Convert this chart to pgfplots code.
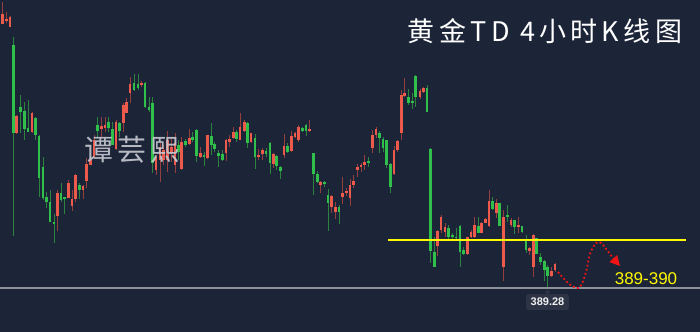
\documentclass[border=0pt]{standalone}
\usepackage{pgfplots}
\pgfplotsset{compat=1.18}
\usepackage{pgfplotstable}
\usepackage{fontspec}
\usetikzlibrary{arrows.meta}
\setmainfont{Liberation Sans}
\newfontfamily\cjktitle[LetterSpace=16]{Noto Sans CJK SC}
\newfontfamily\cjkwm[LetterSpace=15]{Noto Sans CJK SC}
\definecolor{bg}{RGB}{28,36,56}
\definecolor{cred}{RGB}{236,90,76}
\definecolor{cgreen}{RGB}{47,191,74}
\definecolor{wred}{RGB}{150,62,62}
\definecolor{wgreen}{RGB}{44,130,62}
\definecolor{ylw}{RGB}{255,250,0}
\definecolor{gline}{RGB}{140,144,153}
\definecolor{lblbox}{RGB}{44,52,70}
\definecolor{wmk}{RGB}{200,203,210}
\definecolor{arr}{RGB}{240,20,20}

% pixel-read candles: x, high, low, body top, body bottom (image y, top = 0)
\pgfplotstableread{
x hi lo bt bb
2.3 2 24 14 24
6.3 12 23 19 21
10 16 27 17 27
16.7 115 134 116 133
32 112 133 113 132
57.7 190 231 193 216
68.3 180 198 183 198
72 190 211 199 206
75.7 174 202 175 199
83 185 199 186 190
86.7 158 188 164 181
90.3 157 165 160 165
94 135 158 140 157
101.7 117 138 126 129
105 117 132 125 128
116 120 150 122 149
123.3 103 132 105 123
126.7 98 113 102 113
130 77 103 84 93
141.7 81 87 83 85
156 155 175 157 170
160 143 182 147 160
163.7 145 165 150 160
167.3 131 172 140 160
171.7 138 162 147 153
175 133 173 143 165
181.7 137 170 142 169
189.3 129 145 138 144
200.3 147 158 153 157
207.7 135 159 135 158
226 139 161 140 153
229.3 135 147 139 142
233.3 127 139 132 138
240 113 140 127 140
244.3 120 132 122 131
251 133 143 133 142
258.7 149 160 155 157
262.3 148 160 150 154
273.3 153 168 154 164
284 134 158 146 155
291.7 131 152 136 151
295 132 138 133 137
298.7 125 142 127 140
309.7 120 132 129 131
320.7 181 193 182 185
331.7 195 213 196 207
335.3 202 219 207 212
342.7 177 204 193 197
346.3 188 196 191 193
350 179 206 185 198
353.7 175 188 181 185
357.3 164 177 167 170
361 163 172 165 167
364.5 155 170 162 165
372.3 130 153 135 148
376 127 138 129 135
394 146 175 150 174
397.7 140 152 141 150
401.3 90 140 95 133
404.7 78 97 93 96
420 89 99 91 97
423.3 87 93 88 92
437.7 230 256 231 246
441 215 233 217 230
445 223 237 227 232
467.3 237 255 237 254
471 230 238 232 237
474.3 217 238 225 237
481.7 222 233 223 233
485.3 218 223 219 223
489 190 227 201 226
496.3 199 218 203 213
503.7 210 281 217 267
511 218 227 220 225
518.3 217 233 225 227
529.7 247 255 248 251
533.3 234 277 235 267
551.3 267 277 271 276
555 263 272 264 270
}\redtab

\pgfplotstableread{
x hi lo bt bb
13.3 37 236 45 133
20.7 95 133 107 112
24.3 102 140 111 129
28 100 132 128 132
35.7 117 140 118 135
39 135 197 136 178
43 157 200 167 198
46.7 192 208 197 202
50 190 222 202 222
54 214 243 222 224
61 183 202 193 200
64.7 197 214 197 199
79.7 183 199 185 190
97.7 117 138 125 131
108.3 117 132 122 128
112.3 122 145 129 145
119.7 122 137 123 131
134 74 91 83 90
138 74 90 84 88
145 82 108 83 107
149 97 112 107 110
152.7 97 173 103 163
178.3 140 160 145 152
185.7 139 147 141 145
192.7 132 142 137 140
196.7 129 162 130 156
204 152 166 155 157
211.3 123 155 136 145
214.7 142 152 144 149
218.3 150 167 153 156
222.3 150 161 154 160
236.7 130 142 132 139
247.7 122 148 123 143
255 134 169 138 157
266 148 157 151 154
270 142 174 143 163
276.7 155 170 156 166
280.7 166 179 167 171
287.3 143 153 146 152
302.7 127 132 128 131
306 124 136 125 131
313.7 153 195 153 174
317.3 171 183 174 182
324.3 181 187 182 184
328 189 231 195 203
339 205 224 207 212
368.3 157 167 161 163
379.3 131 153 133 138
383 137 152 139 148
386.7 140 168 140 165
390.3 163 193 164 187
408.7 89 105 97 103
412.3 93 109 101 103
415.7 75 107 76 97
427 85 112 88 112
430.3 148 263 149 251
434.3 237 267 252 267
448.7 225 239 228 237
452.3 233 240 235 237
456 228 239 237 238
460 225 267 226 252
463.3 247 255 250 254
478.3 217 233 226 233
492.7 197 210 201 209
499.7 203 226 203 226
507.3 205 222 215 217
514.7 220 234 220 227
522 226 233 226 232
526 235 253 239 250
536.7 238 254 238 254
540.7 253 265 257 262
544.3 260 281 261 270
547.7 265 287 267 276
}\greentab

\begin{document}
\begin{tikzpicture}
\fill[bg] (0,0) rectangle (700bp,332bp);
\begin{axis}[at={(0,0)}, anchor=south west,
  width=700bp, height=332bp, scale only axis,
  xmin=0, xmax=700, ymin=0, ymax=332, hide axis]

% gray price line (389.28)
\addplot[gline, line width=1.2bp] coordinates {(0,44) (700,44)};

% wicks (segments from low up to high)
\addplot[wred, line width=1bp, forget plot, quiver={u=0, v=\thisrow{lo}-\thisrow{hi}}]
  table[x=x, y expr={332-\thisrow{lo}}] {\redtab};
\addplot[wgreen, line width=1bp, forget plot, quiver={u=0, v=\thisrow{lo}-\thisrow{hi}}]
  table[x=x, y expr={332-\thisrow{lo}}] {\greentab};
% bodies
\addplot[cred, line width=2.6bp, forget plot, quiver={u=0, v=\thisrow{bb}-\thisrow{bt}}]
  table[x=x, y expr={332-\thisrow{bb}}] {\redtab};
\addplot[cgreen, line width=2.6bp, forget plot, quiver={u=0, v=\thisrow{bb}-\thisrow{bt}}]
  table[x=x, y expr={332-\thisrow{bb}}] {\greentab};

% yellow support line
\addplot[ylw, line width=1.3bp] coordinates {(388,92) (686,92)};

% red dotted projected path
\addplot[arr, line width=1.8bp, dash pattern=on 1.8bp off 2.4bp, smooth, tension=0.6,
  -{Triangle[length=10bp,width=10bp]}] coordinates {
  (558,60) (565,52) (572,46) (580,45) (586,60) (590,78) (596,89) (601,89) (607,82) (613,74) (620,66)};

% texts
\node[text=ylw, font=\fontsize{17bp}{19bp}\selectfont] at (axis cs:646,53) {389-390};
\fill[lblbox] (axis cs:544.5,38.5) -- (axis cs:547.5,42.5) -- (axis cs:550.5,38.5) -- cycle;
\node[fill=lblbox, text=white!88!gray, rounded corners=2bp, inner xsep=4.5bp, inner ysep=4bp,
  font=\bfseries\fontsize{11bp}{12bp}\selectfont] at (axis cs:547.5,30) {389.28};
\node[text=white, font=\cjktitle\fontsize{27bp}{30bp}\selectfont] at (axis cs:545,300.5) {黄金TD 4小时K线图};
\node[text=wmk, opacity=0.9, font=\cjkwm\fontsize{29bp}{32bp}\selectfont] at (axis cs:132,182) {谭芸熙};
\end{axis}
\end{tikzpicture}
\end{document}
